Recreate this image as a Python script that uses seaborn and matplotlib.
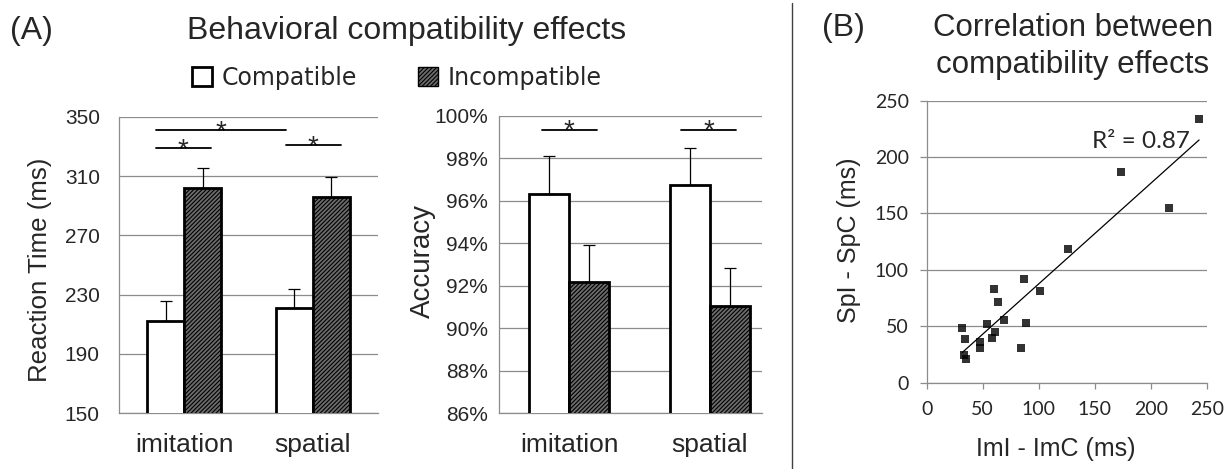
import numpy as np
import pandas as pd
import matplotlib
matplotlib.use("Agg")
import matplotlib.pyplot as plt
from matplotlib.patches import Patch
from matplotlib.lines import Line2D
import seaborn as sns

# ---- data -------------------------------------------------------------
tasks = ["imitation", "spatial"]
conditions = ["Compatible", "Incompatible"]

rt_compatible = [212.2, 221.0]
rt_incompatible = [302.1, 296.0]
rt_err_compatible = [13.3, 13.0]
rt_err_incompatible = [13.3, 13.1]
rt_ticks = [150, 190, 230, 270, 310, 350]

acc_compatible = [96.34, 96.72]
acc_incompatible = [92.16, 91.06]
acc_err_compatible = [1.78, 1.76]
acc_err_incompatible = [1.74, 1.76]
acc_ticks = [86, 88, 90, 92, 94, 96, 98, 100]

# per-participant compatibility effects (ms)
imitation_effect = [243.2, 173.2, 216.4, 126.5, 86.9, 101.5, 59.8, 63.4, 69.0, 88.4,
                    53.9, 31.5, 60.7, 58.0, 34.5, 47.3, 47.3, 84.2, 33.6, 34.8]
spatial_effect = [233.7, 186.8, 154.8, 118.2, 92.2, 81.3, 83.0, 71.2, 55.6, 52.9,
                  51.7, 48.8, 44.9, 39.9, 39.0, 36.1, 31.0, 30.7, 24.5, 20.7]
scatter_ticks = [0, 50, 100, 150, 200, 250]
r_squared_label = "R² = 0.87"

# ---- style ------------------------------------------------------------
sns.set_style("white")
plt.rcParams["font.family"] = ["Liberation Sans", "DejaVu Sans"]
plt.rcParams["hatch.linewidth"] = 0.8

W, H = 1230, 469
fig = plt.figure(figsize=(W / 100, H / 100), dpi=100)


def px_axes(left, top, right, bottom):
    return fig.add_axes([left / W, 1 - bottom / H, (right - left) / W, (bottom - top) / H])


def fig_xy(px, py):
    return px / W, 1 - py / H


GRID = "#8c8c8c"
FACE_INC = "#6c6c6c"
HATCH = "////////"


def bar_panel(ax, comp, incomp, err_c, err_i, width):
    df = pd.DataFrame({
        "task": tasks * 2,
        "condition": [conditions[0]] * len(tasks) + [conditions[1]] * len(tasks),
        "value": list(comp) + list(incomp),
    })
    sns.barplot(data=df, x="task", y="value", hue="condition", order=tasks,
                hue_order=conditions,
                palette={conditions[0]: "white", conditions[1]: FACE_INC},
                saturation=1, width=width, edgecolor="black", linewidth=2.0,
                errorbar=None, legend=False, ax=ax, zorder=3)
    for patch in ax.containers[1]:
        patch.set_hatch(HATCH)
    for container, errs in zip(ax.containers, [err_c, err_i]):
        for patch, e in zip(container, errs):
            xc = patch.get_x() + patch.get_width() / 2
            top = patch.get_y() + patch.get_height()
            ax.errorbar([xc], [top], yerr=[[0], [e]], fmt="none", ecolor="black",
                        elinewidth=0.9, capsize=4, capthick=0.9, zorder=4)
    ax.yaxis.grid(True, color=GRID, lw=0.9)
    ax.xaxis.grid(False)
    ax.set_axisbelow(True)
    for s in ["top", "right"]:
        ax.spines[s].set_visible(False)
    for s in ["left", "bottom"]:
        ax.spines[s].set_color(GRID)
        ax.spines[s].set_linewidth(0.9)
    ax.set_xlabel("")
    ax.tick_params(axis="x", length=0, pad=14, labelsize=19)
    ax.tick_params(axis="y", length=0, labelsize=15)


def sig_bar(ax, x0, x1, y, size=20):
    ax.plot([x0, x1], [y, y], color="black", lw=1.3, clip_on=False, zorder=5)
    ax.annotate("*", xy=((x0 + x1) / 2, y), xytext=(0, -6.5), textcoords="offset points",
                ha="center", va="baseline", fontsize=size, annotation_clip=False)


# ---- (A) reaction time ------------------------------------------------
ax1 = px_axes(119.3, 116.7, 378.3, 413.3)
bar_panel(ax1, rt_compatible, rt_incompatible, rt_err_compatible, rt_err_incompatible, 0.579)
ax1.set_ylim(rt_ticks[0], rt_ticks[-1])
ax1.set_yticks(rt_ticks)
ax1.set_xlim(-0.506, 1.51)
ax1.tick_params(axis="y", pad=14)
ax1.set_ylabel("Reaction Time (ms)", fontsize=18.6, va="center")
ax1.yaxis.set_label_coords(*fig_xy(40, 270), transform=fig.transFigure)
sig_bar(ax1, -0.222, 0.205, 329.1)
sig_bar(ax1, 0.792, 1.217, 330.9)
sig_bar(ax1, -0.222, 0.792, 341.0)

# ---- (A) accuracy -----------------------------------------------------
ax2 = px_axes(499, 115.7, 762.3, 413.3)
bar_panel(ax2, acc_compatible, acc_incompatible, acc_err_compatible, acc_err_incompatible, 0.571)
ax2.set_ylim(acc_ticks[0], acc_ticks[-1])
ax2.set_yticks(acc_ticks)
ax2.set_yticklabels([f"{t}%" for t in acc_ticks])
ax2.set_xlim(-0.5, 1.372)
ax2.tick_params(axis="y", pad=8)
ax2.set_ylabel("Accuracy", fontsize=20, va="center")
ax2.yaxis.set_label_coords(*fig_xy(423, 260.5), transform=fig.transFigure)
sig_bar(ax2, -0.197, 0.194, 99.35)
sig_bar(ax2, 0.794, 1.185, 99.35)

# ---- (B) correlation --------------------------------------------------
ax3 = px_axes(926.7, 100.7, 1206.7, 382.7)
corr = pd.DataFrame({"imitation": imitation_effect, "spatial": spatial_effect})
sns.regplot(data=corr, x="imitation", y="spatial", ci=None, truncate=True, marker="s",
            scatter_kws={"s": 34, "color": "black", "linewidths": 0, "zorder": 4},
            line_kws={"color": "black", "lw": 0.9, "zorder": 3}, ax=ax3)
ax3.set_xlim(scatter_ticks[0], scatter_ticks[-1])
ax3.set_ylim(scatter_ticks[0], scatter_ticks[-1])
ax3.set_xticks(scatter_ticks)
ax3.set_yticks(scatter_ticks)
ax3.yaxis.grid(True, color=GRID, lw=0.9)
ax3.xaxis.grid(False)
ax3.set_axisbelow(True)
for s in ["top", "right"]:
    ax3.spines[s].set_visible(False)
for s in ["left", "bottom"]:
    ax3.spines[s].set_color(GRID)
    ax3.spines[s].set_linewidth(0.9)
ax3.tick_params(axis="both", direction="out", color=GRID, width=0.9, labelsize=14)
ax3.tick_params(axis="y", length=5, pad=8, left=True)
ax3.tick_params(axis="x", length=4, pad=9, bottom=True)
for lab in ax3.get_xticklabels() + ax3.get_yticklabels():
    lab.set_family("Lato")
ax3.set_xlabel("ImI - ImC (ms)", fontsize=18, va="center")
ax3.xaxis.set_label_coords(*fig_xy(1056, 449), transform=fig.transFigure)
ax3.set_ylabel("SpI - SpC (ms)", fontsize=18, va="center")
ax3.yaxis.set_label_coords(*fig_xy(849, 240), transform=fig.transFigure)
ax3.text(191, 213.6, r_squared_label, ha="center", va="center", fontsize=17.5, family="Lato")

# ---- titles, legend, divider -----------------------------------------
fig.text(*fig_xy(10, 39.3), "(A)", fontsize=23, ha="left", va="baseline")
fig.text(*fig_xy(406.5, 39.3), "Behavioral compatibility effects", fontsize=23,
         ha="center", va="baseline")
fig.text(*fig_xy(822, 36), "(B)", fontsize=23, ha="left", va="baseline")
fig.text(*fig_xy(1073, 36), "Correlation between", fontsize=22.5, ha="center", va="baseline")
fig.text(*fig_xy(1073, 72.7), "compatibility effects", fontsize=22.5, ha="center", va="baseline")

handles = [Patch(facecolor="white", edgecolor="black", linewidth=2.0, label=conditions[0]),
           Patch(facecolor=FACE_INC, edgecolor="black", linewidth=1.0, hatch=HATCH,
                 label=conditions[1])]
fig.legend(handles=handles, loc="center left", bbox_to_anchor=fig_xy(192, 78), ncol=2,
           frameon=False, borderpad=0, borderaxespad=0, handlelength=0.85,
           handleheight=0.85, handletextpad=0.4, columnspacing=2.6,
           prop={"family": "DejaVu Sans", "size": 17})

fig.add_artist(Line2D([791.5 / W, 791.5 / W], [0, 1 - 3 / H], color="#404040", lw=1.0,
                      transform=fig.transFigure))

fig.savefig("out.png", dpi=100)
